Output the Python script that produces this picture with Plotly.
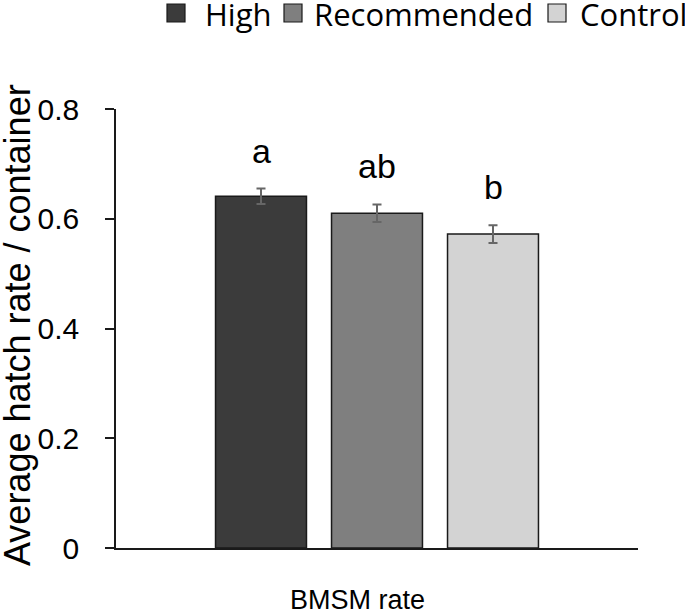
import plotly.graph_objects as go

# ---- data ----
series = ["High", "Recommended", "Control"]
values = [0.641, 0.610, 0.572]
errors = [0.014, 0.016, 0.016]
letters = ["a", "ab", "b"]
y_ticks = [0, 0.2, 0.4, 0.6, 0.8]
y_tick_labels = ["0", "0.2", "0.4", "0.6", "0.8"]
x_label = "BMSM rate"
y_label = "Average hatch rate / container"

colors = ["#3b3b3b", "#7f7f7f", "#d3d3d3"]

W, H = 685, 614
L, R, T, B = 116, 47, 109, 66
PW, PH = W - L - R, H - T - B


def px_x(px):
    return (px - L) / PW


def px_y(py):
    return (H - B - py) / PH


fig = go.Figure()
for i, (name, v, e, c) in enumerate(zip(series, values, errors, colors)):
    fig.add_trace(go.Bar(
        x=[i], y=[v], name=name, width=0.784,
        marker=dict(color=c, line=dict(color="#1a1a1a", width=1.5)),
        error_y=dict(type="data", array=[e], visible=True,
                     color="#666666", thickness=2, width=4.5),
        showlegend=False, hoverinfo="skip",
    ))
    fig.add_annotation(x=i, y=v + e, text=letters[i], showarrow=False,
                       xref="x", yref="y", yanchor="bottom", yshift=17,
                       font=dict(family="Liberation Sans", size=34, color="black"))

# legend drawn manually (reference legend runs off the right edge)
leg_sq = [167, 284, 548]
leg_tx = [203, 312, 578]
for name, c, sx, tx in zip(series, colors, leg_sq, leg_tx):
    fig.add_shape(type="rect", xref="paper", yref="paper",
                  x0=px_x(sx), x1=px_x(sx + 18), y0=px_y(22), y1=px_y(4),
                  fillcolor=c, line=dict(color="#1a1a1a", width=1.2))
    fig.add_annotation(x=px_x(tx), y=px_y(14), xref="paper", yref="paper",
                       text=name, showarrow=False, xanchor="left", yanchor="middle",
                       font=dict(family="Open Sans", size=31, color="black"))

fig.add_annotation(x=px_x(17), y=px_y(325), xref="paper", yref="paper",
                   text=y_label, textangle=-90, showarrow=False,
                   xanchor="center", yanchor="middle",
                   font=dict(family="Liberation Sans", size=36, color="black"))
fig.add_annotation(x=px_x(357), y=px_y(600), xref="paper", yref="paper",
                   text=x_label, showarrow=False,
                   xanchor="center", yanchor="middle",
                   font=dict(family="Liberation Sans", size=27, color="black"))

fig.update_layout(
    width=W, height=H,
    margin=dict(l=L, r=R, t=T, b=B, autoexpand=False),
    paper_bgcolor="white", plot_bgcolor="white",
    barmode="overlay",
    showlegend=False,
)
fig.update_xaxes(range=[-1.25, 3.25], showline=True, linecolor="#1a1a1a",
                 linewidth=1.5, showticklabels=False, ticks="",
                 showgrid=False, zeroline=False)
fig.update_yaxes(range=[0, 0.8], tickvals=y_ticks, ticktext=y_tick_labels,
                 showline=True, linecolor="#1a1a1a", linewidth=1.5,
                 ticks="outside", ticklen=9, tickwidth=1.5, tickcolor="#1a1a1a",
                 ticklabelstandoff=20,
                 tickfont=dict(family="Liberation Sans", size=30, color="black"),
                 showgrid=False, zeroline=False)

fig.write_html("out.html",
               config={"displayModeBar": False},
               post_script="document.body.style.margin='0';document.body.style.overflow='hidden';")
